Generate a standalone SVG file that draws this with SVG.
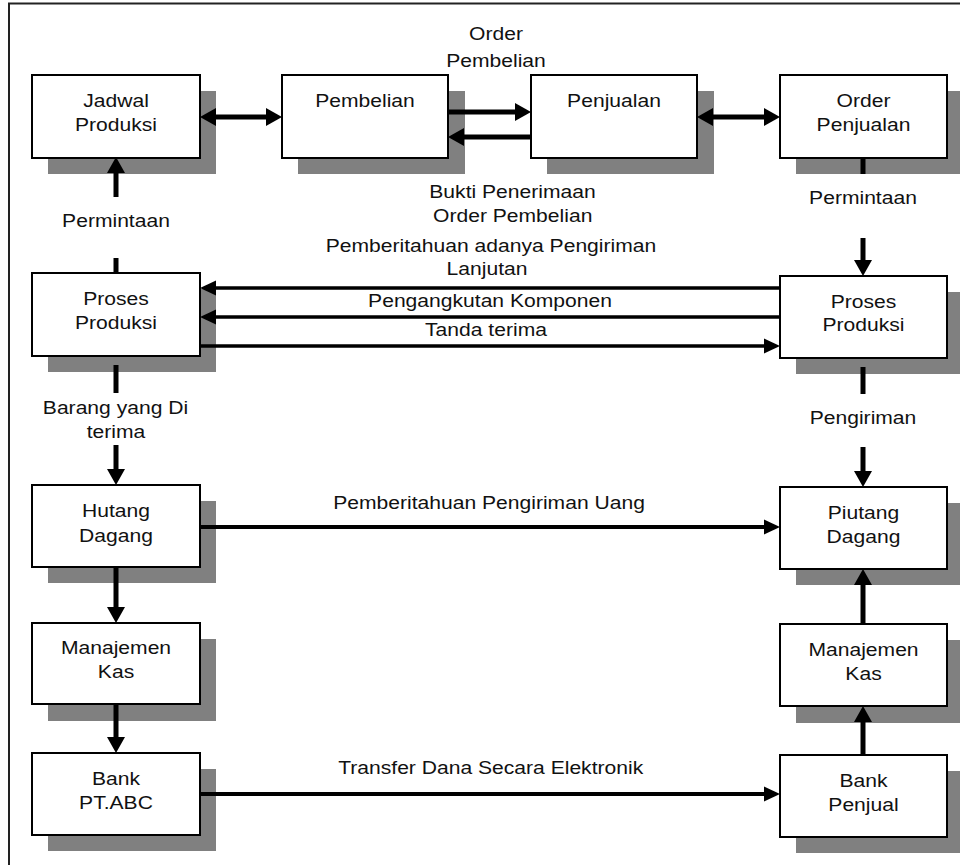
<svg xmlns="http://www.w3.org/2000/svg" width="960" height="865" viewBox="0 0 960 865">
  <defs>
    <style>
      .shadow { fill: #808080; }
      .box { fill: #ffffff; stroke: #000000; stroke-width: 2; }
      .frame { fill: none; stroke: #222222; stroke-width: 2; }
      .thick { fill: none; stroke: #000000; stroke-width: 5; }
      .mid { fill: none; stroke: #000000; stroke-width: 3.5; }
      .long { fill: none; stroke: #000000; stroke-width: 4; }
      text { font-family: "Liberation Sans", Arial, sans-serif; font-size: 18.5px; fill: #111111; text-anchor: middle; }
    </style>
    <marker id="head" markerUnits="userSpaceOnUse" markerWidth="18" markerHeight="20" refX="0" refY="0" viewBox="0 -10 18 20" orient="auto-start-reverse">
      <path d="M0,-9 L16,0 L0,9 Z" fill="#000000"/>
    </marker>
    <marker id="headSmall" markerUnits="userSpaceOnUse" markerWidth="18" markerHeight="18" refX="0" refY="0" viewBox="0 -9 18 18" orient="auto-start-reverse">
      <path d="M0,-7.5 L16,0 L0,7.5 Z" fill="#000000"/>
    </marker>
  </defs>

  <rect width="960" height="865" fill="#ffffff"/>
  <path class="frame" d="M9,870 V3.5 H970"/>

  <!-- drop shadows -->
  <g id="shadows">
    <rect class="shadow" x="48" y="91" width="168" height="83"/>
    <rect class="shadow" x="298" y="91" width="167" height="83"/>
    <rect class="shadow" x="547" y="91" width="167" height="83"/>
    <rect class="shadow" x="796" y="91" width="168" height="83"/>
    <rect class="shadow" x="48" y="289" width="168" height="83"/>
    <rect class="shadow" x="796" y="292" width="168" height="82"/>
    <rect class="shadow" x="48" y="501" width="168" height="82"/>
    <rect class="shadow" x="796" y="503" width="168" height="82"/>
    <rect class="shadow" x="48" y="639" width="168" height="82"/>
    <rect class="shadow" x="796" y="640" width="168" height="83"/>
    <rect class="shadow" x="48" y="769" width="168" height="82"/>
    <rect class="shadow" x="796" y="771" width="168" height="82"/>
  </g>

  <!-- nodes -->
  <g id="jadwal-produksi">
    <rect class="box" x="32" y="75" width="168" height="83"/>
    <text transform="translate(116 106.7) scale(1.14 1)">Jadwal</text>
    <text transform="translate(116 131) scale(1.14 1)">Produksi</text>
  </g>
  <g id="pembelian">
    <rect class="box" x="282" y="75" width="166" height="83"/>
    <text transform="translate(365 106.7) scale(1.14 1)">Pembelian</text>
  </g>
  <g id="penjualan">
    <rect class="box" x="531" y="75" width="166" height="83"/>
    <text transform="translate(614 106.7) scale(1.14 1)">Penjualan</text>
  </g>
  <g id="order-penjualan">
    <rect class="box" x="780" y="75" width="167" height="83"/>
    <text transform="translate(863.5 106.7) scale(1.14 1)">Order</text>
    <text transform="translate(863.5 131) scale(1.14 1)">Penjualan</text>
  </g>
  <g id="proses-produksi-pembeli">
    <rect class="box" x="32" y="273" width="168" height="83"/>
    <text transform="translate(116 305) scale(1.14 1)">Proses</text>
    <text transform="translate(116 329) scale(1.14 1)">Produksi</text>
  </g>
  <g id="proses-produksi-penjual">
    <rect class="box" x="780" y="276" width="167" height="82"/>
    <text transform="translate(863.5 307.5) scale(1.14 1)">Proses</text>
    <text transform="translate(863.5 331) scale(1.14 1)">Produksi</text>
  </g>
  <g id="hutang-dagang">
    <rect class="box" x="32" y="485" width="168" height="82"/>
    <text transform="translate(116 516.7) scale(1.14 1)">Hutang</text>
    <text transform="translate(116 541.5) scale(1.14 1)">Dagang</text>
  </g>
  <g id="piutang-dagang">
    <rect class="box" x="780" y="487" width="167" height="82"/>
    <text transform="translate(863.5 518.5) scale(1.14 1)">Piutang</text>
    <text transform="translate(863.5 543) scale(1.14 1)">Dagang</text>
  </g>
  <g id="manajemen-kas-pembeli">
    <rect class="box" x="32" y="623" width="168" height="81"/>
    <text transform="translate(116 654) scale(1.14 1)">Manajemen</text>
    <text transform="translate(116 678) scale(1.14 1)">Kas</text>
  </g>
  <g id="manajemen-kas-penjual">
    <rect class="box" x="780" y="624" width="167" height="82"/>
    <text transform="translate(863.5 655.5) scale(1.14 1)">Manajemen</text>
    <text transform="translate(863.5 679.5) scale(1.14 1)">Kas</text>
  </g>
  <g id="bank-pt-abc">
    <rect class="box" x="32" y="753" width="168" height="82"/>
    <text transform="translate(116 785) scale(1.14 1)">Bank</text>
    <text transform="translate(116 809) scale(1.14 1)">PT.ABC</text>
  </g>
  <g id="bank-penjual">
    <rect class="box" x="780" y="755" width="167" height="82"/>
    <text transform="translate(863.5 787) scale(1.14 1)">Bank</text>
    <text transform="translate(863.5 811) scale(1.14 1)">Penjual</text>
  </g>

  <!-- connectors -->
  <g id="connectors">
    <!-- top row -->
    <path class="thick" d="M216,117 H266" marker-start="url(#head)" marker-end="url(#head)"/>
    <path class="thick" d="M448,112 H515" marker-end="url(#head)"/>
    <path class="thick" d="M531,137 H464" marker-end="url(#head)"/>
    <path class="thick" d="M713,117 H764" marker-start="url(#head)" marker-end="url(#head)"/>

    <!-- buyer column -->
    <path class="thick" d="M116,197 V173" marker-end="url(#head)"/>
    <path class="thick" d="M116,258 V273"/>
    <path class="thick" d="M116,365 V393"/>
    <path class="thick" d="M116,445 V469" marker-end="url(#head)"/>
    <path class="thick" d="M116,567 V607" marker-end="url(#head)"/>
    <path class="thick" d="M116,704 V737" marker-end="url(#head)"/>

    <!-- seller column -->
    <path class="thick" d="M863,158 V174"/>
    <path class="thick" d="M863,238 V260" marker-end="url(#head)"/>
    <path class="thick" d="M863,367 V394"/>
    <path class="thick" d="M863,447 V471" marker-end="url(#head)"/>
    <path class="thick" d="M863,624 V585" marker-end="url(#head)"/>
    <path class="thick" d="M863,755 V722" marker-end="url(#head)"/>

    <!-- production exchange -->
    <path class="mid" d="M780,288 H216" marker-end="url(#headSmall)"/>
    <path class="mid" d="M780,317 H216" marker-end="url(#headSmall)"/>
    <path class="mid" d="M200,346 H764" marker-end="url(#headSmall)"/>

    <!-- payment flows -->
    <path class="long" d="M200,527 H764" marker-end="url(#headSmall)"/>
    <path class="long" d="M200,794 H764" marker-end="url(#headSmall)"/>
  </g>

  <!-- connector labels -->
  <g id="labels">
    <text transform="translate(496 40) scale(1.14 1)">Order</text>
    <text transform="translate(496 66.5) scale(1.14 1)">Pembelian</text>
    <text transform="translate(512.5 198.3) scale(1.14 1)">Bukti Penerimaan</text>
    <text transform="translate(512.7 221.7) scale(1.14 1)">Order Pembelian</text>
    <text transform="translate(116 226.5) scale(1.14 1)">Permintaan</text>
    <text transform="translate(863 204) scale(1.14 1)">Permintaan</text>
    <text transform="translate(491 251.5) scale(1.14 1)">Pemberitahuan adanya Pengiriman</text>
    <text transform="translate(487 275) scale(1.14 1)">Lanjutan</text>
    <text transform="translate(490 306.5) scale(1.14 1)">Pengangkutan Komponen</text>
    <text transform="translate(486 336) scale(1.14 1)">Tanda terima</text>
    <text transform="translate(115.5 414) scale(1.14 1)">Barang yang Di</text>
    <text transform="translate(116 438) scale(1.14 1)">terima</text>
    <text transform="translate(863 424) scale(1.14 1)">Pengiriman</text>
    <text transform="translate(489 509) scale(1.14 1)">Pemberitahuan Pengiriman Uang</text>
    <text transform="translate(490.7 774) scale(1.14 1)">Transfer Dana Secara Elektronik</text>
  </g>
</svg>
